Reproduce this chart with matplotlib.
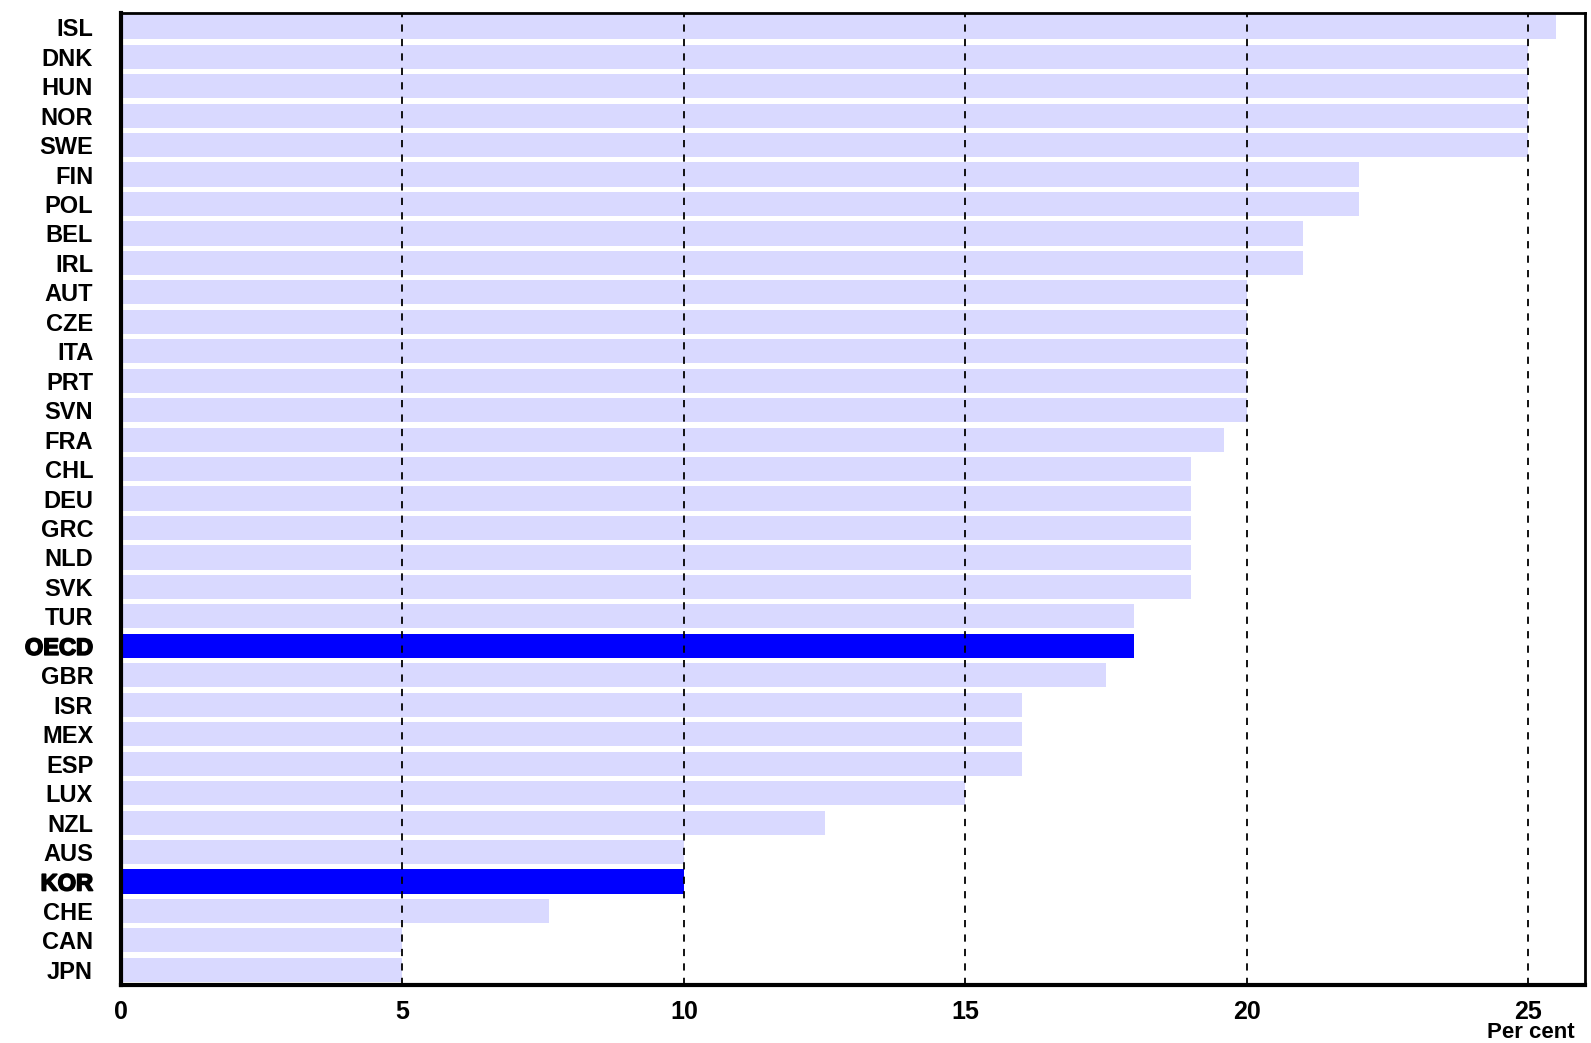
import matplotlib.pyplot as plt
import matplotlib.patheffects as pe
import matplotlib.transforms as mtrans

countries = ["ISL", "DNK", "HUN", "NOR", "SWE", "FIN", "POL", "BEL", "IRL", "AUT",
             "CZE", "ITA", "PRT", "SVN", "FRA", "CHL", "DEU", "GRC", "NLD", "SVK",
             "TUR", "OECD", "GBR", "ISR", "MEX", "ESP", "LUX", "NZL", "AUS", "KOR",
             "CHE", "CAN", "JPN"]
rates = [25.5, 25, 25, 25, 25, 22, 22, 21, 21, 20,
         20, 20, 20, 20, 19.6, 19, 19, 19, 19, 19,
         18, 18, 17.5, 16, 16, 16, 15, 12.5, 10, 10,
         7.6, 5, 5]
highlight = ["OECD", "KOR"]

plt.rcParams["font.family"] = ["Liberation Sans", "DejaVu Sans"]

fig, ax = plt.subplots(figsize=(15.91, 10.43), dpi=100)
fig.subplots_adjust(left=0.076, right=0.996, top=0.988, bottom=0.056)

colors = ["#0000ff" if c in highlight else "#d9d9ff" for c in countries]
y = range(len(countries))
ax.barh(y, rates, height=0.82, color=colors, zorder=1)

# Dashed vertical grid lines over the bars
for v in [5, 10, 15, 20, 25]:
    ax.axvline(v, color="black", linestyle=(0, (4, 4)), linewidth=1.3, zorder=3)

ax.set_xlim(0, 26)
ax.set_ylim(len(countries) - 0.5, -0.5)
ax.set_xticks([0, 5, 10, 15, 20, 25])
ax.set_yticks(list(y))
ax.set_yticklabels(countries, fontweight="bold")
ax.tick_params(axis="y", length=0, labelsize=17, pad=20)
ax.tick_params(axis="x", length=0, labelsize=18, pad=11)
for lbl in ax.get_xticklabels():
    lbl.set_fontweight("bold")
for lbl in ax.get_yticklabels():
    if lbl.get_text() in highlight:
        lbl.set_path_effects([pe.withStroke(linewidth=1.2, foreground="black")])

for side in ["left", "bottom"]:
    ax.spines[side].set_linewidth(3)
for side in ["top", "right"]:
    ax.spines[side].set_linewidth(2)

# Unit label under the last tick, at the bottom edge of the figure
trans = mtrans.blended_transform_factory(ax.transData, fig.transFigure)
ax.text(25.05, 0.0, "Per cent", transform=trans,
        ha="center", va="bottom", fontsize=16, fontweight="bold")

fig.savefig("out.png", dpi=100)
